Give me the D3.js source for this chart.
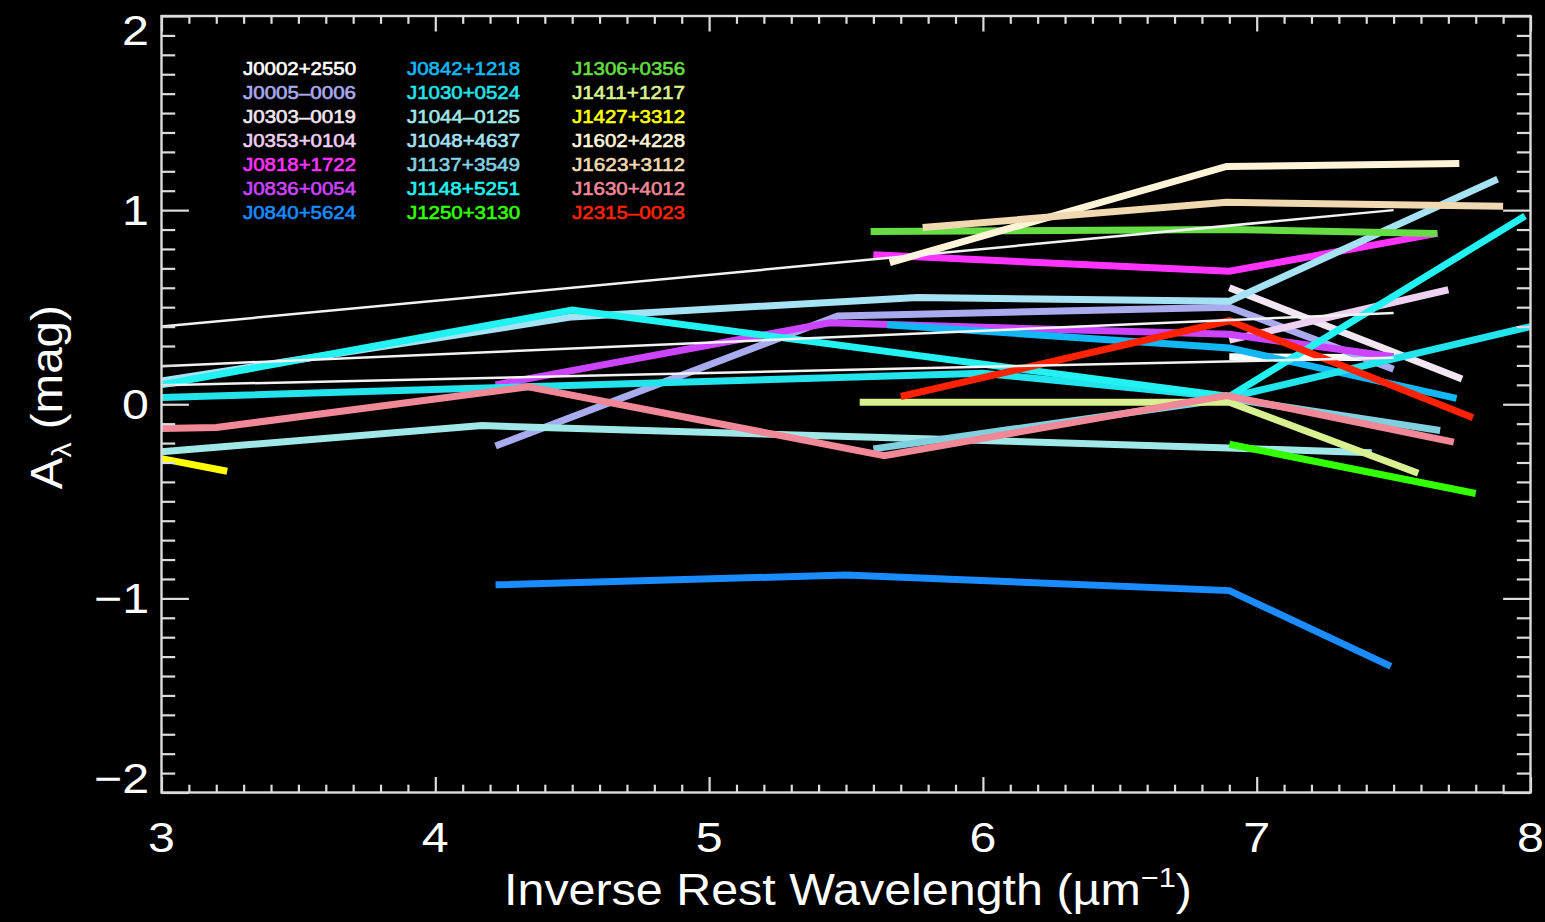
<!DOCTYPE html>
<html>
<head>
<meta charset="utf-8">
<script src="https://cdn.jsdelivr.net/npm/d3@7"></script>
<style>
  html, body { margin: 0; padding: 0; background: #000; }
  svg { display: block; }
  text { font-family: "Liberation Sans", Arial, Helvetica, sans-serif; }
</style>
</head>
<body>
<svg id="chart" width="1545" height="922"></svg>
<script>
// ---- axis ticks ----
const xTicks = [3, 4, 5, 6, 7, 8];
const xTickLabels = ["3", "4", "5", "6", "7", "8"];
const yTicks = [-2, -1, 0, 1, 2];
const yTickLabels = ["\u22122", "\u22121", "0", "1", "2"];

// ---- quasars (legend order) ----
const quasarNames = [
  "J0002+2550", "J0005\u20130006", "J0303\u20130019", "J0353+0104", "J0818+1722", "J0836+0054", "J0840+5624",
  "J0842+1218", "J1030+0524", "J1044\u20130125", "J1048+4637", "J1137+3549", "J1148+5251", "J1250+3130",
  "J1306+0356", "J1411+1217", "J1427+3312", "J1602+4228", "J1623+3112", "J1630+4012", "J2315\u20130023"
];
const quasarColors = [
  "#ffffff", "#aaaaee", "#f2e6f2", "#eed0f0", "#ff33ff", "#cc44ff", "#1a8cff",
  "#12b8f5", "#22e4ec", "#a0e8e8", "#a4e2f4", "#80d0e0", "#22f2f2", "#33ff00",
  "#66dd44", "#d8f090", "#ffff00", "#fff4d8", "#f0d8b0", "#f08898", "#ff2200"
];

// ---- extinction curves: [1/lambda (um^-1), A_lambda (mag)] ----
const J0002_2550 = [[6.9, 0.245], [7.5, 0.24]];
const J0005_0006 = [[4.22, -0.215], [5.47, 0.455], [6.9, 0.50], [7.5, 0.18]];
const J0303_0019 = [[6.9, 0.60], [7.75, 0.13]];
const J0353_0104 = [[6.9, 0.33], [7.7, 0.59]];
const J0818_1722 = [[5.6, 0.77], [6.9, 0.685], [7.66, 0.88]];
const J0836_0054 = [[4.22, 0.10], [5.44, 0.42], [6.9, 0.36], [7.5, 0.245]];
const J0840_5624 = [[4.22, -0.93], [5.5, -0.88], [6.9, -0.96], [7.49, -1.35]];
const J0842_1218 = [[5.65, 0.41], [6.9, 0.29], [7.73, 0.03]];
const J1030_0524 = [[3.0, 0.035], [6.0, 0.16], [6.9, 0.035], [8.0, 0.40]];
const J1044_0125 = [[3.0, -0.245], [4.17, -0.11], [6.9, -0.225], [7.42, -0.25]];
const J1048_4637 = [[3.0, 0.12], [4.5, 0.45], [5.76, 0.55], [6.9, 0.53], [7.88, 1.16]];
const J1137_3549 = [[5.6, -0.23], [6.9, 0.03], [7.67, -0.135]];
const J1148_5251 = [[3.0, 0.10], [4.5, 0.485], [6.9, 0.04], [7.98, 0.97]];
const J1250_3130 = [[6.9, -0.206], [7.8, -0.46]];
const J1306_0356 = [[5.59, 0.89], [6.9, 0.90], [7.66, 0.88]];
const J1411_1217 = [[5.55, 0.01], [6.9, 0.01], [7.59, -0.355]];
const J1427_3312 = [[3.0, -0.28], [3.24, -0.345]];
const J1602_4228 = [[5.66, 0.73], [6.89, 1.225], [7.74, 1.24]];
const J1623_3112 = [[5.78, 0.91], [6.89, 1.04], [7.9, 1.02]];
const J1630_4012 = [[3.0, -0.125], [3.2, -0.12], [4.34, 0.09], [5.64, -0.265], [6.89, 0.045], [7.72, -0.195]];
const J2315_0023 = [[5.7, 0.04], [6.9, 0.43], [7.79, -0.07]];

// thin reference curves
const thinCurveA = [[3.0, 0.40], [7.5, 1.0]];
const thinCurveB = [[3.0, 0.196], [7.5, 0.47]];
const thinCurveC = [[3.0, 0.098], [7.5, 0.24]];

const curves = [
  J0002_2550, J0005_0006, J0303_0019, J0353_0104, J0818_1722, J0836_0054, J0840_5624,
  J0842_1218, J1030_0524, J1044_0125, J1048_4637, J1137_3549, J1148_5251, J1250_3130,
  J1306_0356, J1411_1217, J1427_3312, J1602_4228, J1623_3112, J1630_4012, J2315_0023
];
const thinCurves = [thinCurveA, thinCurveB, thinCurveC];

// ---- layout ----
const W = 1545, H = 922;
const frame = { left: 161.5, right: 1530.5, top: 16, bottom: 792.5 };

const svg = d3.select("#chart");
svg.append("rect").attr("width", W).attr("height", H).attr("fill", "#000");

const x = d3.scaleLinear().domain([3, 8]).range([frame.left, frame.right]);
const y = d3.scaleLinear().domain([-2, 2]).range([frame.bottom, frame.top]);

// clip curves to the plotting window
svg.append("clipPath").attr("id", "plotClip")
  .append("rect")
  .attr("x", frame.left).attr("y", frame.top)
  .attr("width", frame.right - frame.left).attr("height", frame.bottom - frame.top);

const line = d3.line().x(d => x(d[0])).y(d => y(d[1]));
const plot = svg.append("g").attr("clip-path", "url(#plotClip)");

plot.selectAll("path.curve")
  .data(curves)
  .join("path")
  .attr("class", "curve")
  .attr("d", line)
  .attr("fill", "none")
  .attr("stroke", (d, i) => quasarColors[i])
  .attr("stroke-width", 7)
  .attr("stroke-linejoin", "miter")
  .attr("stroke-linecap", "butt");

plot.selectAll("path.thin")
  .data(thinCurves)
  .join("path")
  .attr("class", "thin")
  .attr("d", line)
  .attr("fill", "none")
  .attr("stroke", "#f2f2f2")
  .attr("stroke-width", 2.5);

// ---- axes: ticks drawn inward on all four sides ----
const xMinor = d3.range(30, 81).map(v => v / 10).filter(v => !xTicks.includes(v));
const yMinor = d3.range(-20, 21).map(v => v / 10).filter(v => !yTicks.includes(v));
const xMajorLen = 15.5, xMinorLen = 7.8, yMajorLen = 27.4, yMinorLen = 13.7;

function styleAxis(g) {
  g.select(".domain").remove();
  g.selectAll(".tick line").attr("stroke", "#dcdcdc").attr("stroke-width", 2.2);
  g.selectAll(".tick text").remove();
}

const axes = svg.append("g");
axes.append("g").attr("transform", `translate(0,${frame.bottom})`)
  .call(d3.axisBottom(x).tickValues(xTicks).tickSize(-xMajorLen)).call(styleAxis);
axes.append("g").attr("transform", `translate(0,${frame.bottom})`)
  .call(d3.axisBottom(x).tickValues(xMinor).tickSize(-xMinorLen)).call(styleAxis);
axes.append("g").attr("transform", `translate(0,${frame.top})`)
  .call(d3.axisTop(x).tickValues(xTicks).tickSize(-xMajorLen)).call(styleAxis);
axes.append("g").attr("transform", `translate(0,${frame.top})`)
  .call(d3.axisTop(x).tickValues(xMinor).tickSize(-xMinorLen)).call(styleAxis);
axes.append("g").attr("transform", `translate(${frame.left},0)`)
  .call(d3.axisLeft(y).tickValues(yTicks).tickSize(-yMajorLen)).call(styleAxis);
axes.append("g").attr("transform", `translate(${frame.left},0)`)
  .call(d3.axisLeft(y).tickValues(yMinor).tickSize(-yMinorLen)).call(styleAxis);
axes.append("g").attr("transform", `translate(${frame.right},0)`)
  .call(d3.axisRight(y).tickValues(yTicks).tickSize(-yMajorLen)).call(styleAxis);
axes.append("g").attr("transform", `translate(${frame.right},0)`)
  .call(d3.axisRight(y).tickValues(yMinor).tickSize(-yMinorLen)).call(styleAxis);

svg.append("rect")
  .attr("x", frame.left).attr("y", frame.top)
  .attr("width", frame.right - frame.left).attr("height", frame.bottom - frame.top)
  .attr("fill", "none").attr("stroke", "#dcdcdc").attr("stroke-width", 2.4);

// widen glyphs horizontally (PostScript Helvetica look)
function widen(sel, factor) {
  sel.each(function () {
    const len = this.getComputedTextLength();
    d3.select(this).attr("textLength", len * factor).attr("lengthAdjust", "spacingAndGlyphs");
  });
}

// tick labels
const tickFont = 42;
svg.append("g").selectAll("text")
  .data(xTicks)
  .join("text")
  .attr("x", d => x(d))
  .attr("y", 852)
  .attr("text-anchor", "middle")
  .attr("font-size", tickFont)
  .style("fill", "#fff")
  .text((d, i) => xTickLabels[i])
  .call(widen, 1.15);

svg.append("g").selectAll("text")
  .data(yTicks)
  .join("text")
  .attr("x", 149)
  .attr("y", d => Math.max(frame.top + 29, Math.min(frame.bottom, y(d) + 15)))
  .attr("text-anchor", "end")
  .attr("font-size", tickFont)
  .style("fill", "#fff")
  .text((d, i) => yTickLabels[i])
  .call(widen, 1.15);

// axis titles
const xTitle = svg.append("text")
  .attr("x", (frame.left + frame.right) / 2 + 2)
  .attr("y", 905)
  .attr("text-anchor", "middle")
  .attr("font-size", 44)
  .style("fill", "#fff");
xTitle.append("tspan").text("Inverse Rest Wavelength (\u00b5m");
xTitle.append("tspan").attr("font-size", 28).attr("dy", -18).text("\u22121");
xTitle.append("tspan").attr("dy", 18).text(")");
widen(xTitle, 1.1);

const yTitle = svg.append("text")
  .attr("transform", `translate(62,${(frame.top + frame.bottom) / 2 - 7}) rotate(-90)`)
  .attr("text-anchor", "middle")
  .attr("font-size", 44)
  .style("fill", "#fff");
yTitle.append("tspan").text("A");
yTitle.append("tspan").attr("font-size", 28).attr("dy", 9).text("\u03bb");
yTitle.append("tspan").attr("dy", -9).text(" (mag)");
widen(yTitle, 1.08);

// legend: three columns of seven names
const legendCols = [243, 407, 572];
const legendTop = 74.5, legendStep = 24.1;
svg.append("g").selectAll("text")
  .data(quasarNames)
  .join("text")
  .attr("x", (d, i) => legendCols[Math.floor(i / 7)])
  .attr("y", (d, i) => legendTop + (i % 7) * legendStep)
  .attr("font-size", 18)
  .style("fill", (d, i) => quasarColors[i])
  .style("stroke", (d, i) => quasarColors[i])
  .style("stroke-width", 0.6)
  .attr("textLength", 113)
  .attr("lengthAdjust", "spacingAndGlyphs")
  .text(d => d);
</script>
</body>
</html>
